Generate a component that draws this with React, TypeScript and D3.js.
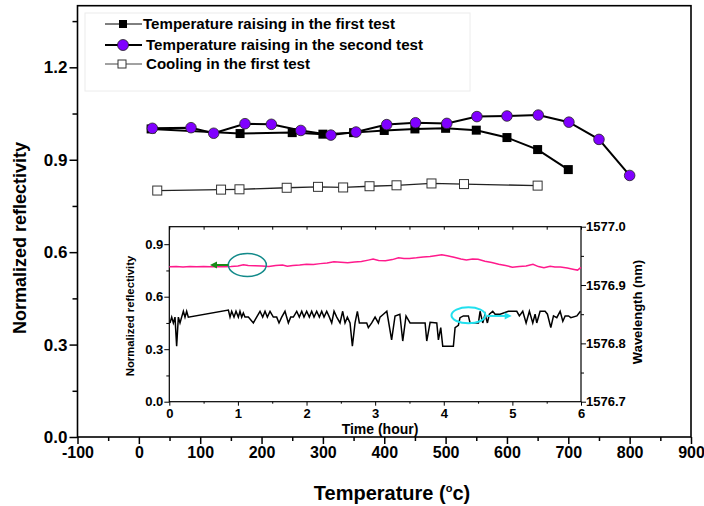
import React, { useEffect, useRef } from 'react';
import * as d3 from 'd3';

// main plot: temperature (°C) against normalized reflectivity
const riseFirstTemp = [20, 165, 250, 300, 350, 400, 450, 500, 550, 600, 650, 700];
const riseFirstRefl = [1.0, 0.985, 0.988, 0.983, 0.988, 0.995, 1.0, 1.002, 0.996, 0.972, 0.933, 0.868];
const riseSecondTemp = [22, 85, 122, 173, 216, 264, 313, 354, 404, 451, 502, 551, 600, 651, 701, 750, 800];
const riseSecondRefl = [1.002, 1.004, 0.986, 1.017, 1.015, 0.995, 0.98, 0.99, 1.014, 1.02, 1.018, 1.04, 1.042, 1.045, 1.022, 0.966, 0.849];
const coolFirstTemp = [30, 134, 164, 241, 292, 333, 376, 420, 477, 530, 650];
const coolFirstRefl = [0.8, 0.803, 0.804, 0.809, 0.812, 0.81, 0.814, 0.817, 0.823, 0.821, 0.816];

const legendLabels = [
  'Temperature raising in the first test',
  'Temperature raising in the second test',
  'Cooling in the first test',
];

const mainYTicks = [0, 0.3, 0.6, 0.9, 1.2];
const mainXTicks = [-100, 0, 100, 200, 300, 400, 500, 600, 700, 800, 900];

// inset: time (hour) against reflectivity (left) and wavelength (right)
const reflTime = [0, 0.1, 0.2, 0.3, 0.4, 0.5, 0.6, 0.7, 0.8, 0.9, 1.0, 1.08, 1.15, 1.25, 1.35, 1.45, 1.55, 1.65, 1.72, 1.8, 1.9, 2.0, 2.1, 2.2, 2.3, 2.4, 2.5, 2.6, 2.7, 2.8, 2.9, 2.97, 3.05, 3.15, 3.25, 3.34, 3.42, 3.5, 3.6, 3.7, 3.8, 3.9, 3.97, 4.05, 4.15, 4.25, 4.33, 4.42, 4.5, 4.6, 4.7, 4.8, 4.9, 5.0, 5.1, 5.2, 5.3, 5.38, 5.46, 5.55, 5.62, 5.7, 5.8, 5.9, 5.95, 6.0];
const reflValue = [0.771, 0.772, 0.77, 0.772, 0.771, 0.772, 0.771, 0.772, 0.771, 0.773, 0.776, 0.783, 0.778, 0.777, 0.775, 0.772, 0.778, 0.781, 0.774, 0.778, 0.781, 0.786, 0.784, 0.789, 0.792, 0.8, 0.797, 0.794, 0.798, 0.801, 0.809, 0.815, 0.807, 0.806, 0.812, 0.823, 0.818, 0.818, 0.822, 0.827, 0.83, 0.836, 0.839, 0.834, 0.825, 0.815, 0.81, 0.816, 0.814, 0.803, 0.796, 0.786, 0.778, 0.769, 0.772, 0.775, 0.785, 0.772, 0.765, 0.774, 0.77, 0.77, 0.764, 0.756, 0.752, 0.768];

const wlTime = [0.01, 0.035, 0.059, 0.083, 0.107, 0.132, 0.156, 0.18, 0.205, 0.229, 0.253, 0.277, 0.861, 0.885, 0.909, 0.943, 0.972, 1.006, 1.03, 1.055, 1.079, 1.103, 1.152, 1.225, 1.273, 1.322, 1.361, 1.395, 1.429, 1.468, 1.516, 1.565, 1.599, 1.638, 1.686, 1.735, 1.769, 1.808, 1.857, 1.895, 1.93, 1.963, 2.002, 2.041, 2.075, 2.109, 2.148, 2.187, 2.221, 2.255, 2.294, 2.333, 2.367, 2.401, 2.44, 2.488, 2.527, 2.561, 2.595, 2.634, 2.668, 2.707, 2.741, 2.77, 2.828, 2.877, 2.901, 2.95, 2.999, 3.047, 3.071, 3.12, 3.17, 3.24, 3.29, 3.36, 3.402, 3.45, 3.509, 3.728, 3.752, 3.801, 3.898, 3.922, 3.956, 3.985, 4.14, 4.165, 4.213, 4.237, 4.286, 4.359, 4.383, 4.505, 4.529, 4.568, 4.602, 4.636, 4.665, 4.714, 4.748, 4.821, 4.942, 4.991, 5.064, 5.102, 5.151, 5.2, 5.248, 5.297, 5.331, 5.355, 5.404, 5.477, 5.511, 5.56, 5.599, 5.647, 5.696, 5.735, 5.769, 5.818, 5.852, 5.94, 5.992];
const wlValue = [1576.835, 1576.845, 1576.835, 1576.845, 1576.795, 1576.845, 1576.835, 1576.845, 1576.855, 1576.845, 1576.855, 1576.845, 1576.857, 1576.845, 1576.855, 1576.845, 1576.855, 1576.845, 1576.855, 1576.845, 1576.852, 1576.845, 1576.845, 1576.835, 1576.845, 1576.855, 1576.845, 1576.855, 1576.845, 1576.855, 1576.845, 1576.845, 1576.835, 1576.845, 1576.855, 1576.835, 1576.845, 1576.845, 1576.855, 1576.845, 1576.855, 1576.845, 1576.855, 1576.845, 1576.855, 1576.845, 1576.855, 1576.845, 1576.855, 1576.845, 1576.855, 1576.845, 1576.835, 1576.855, 1576.845, 1576.835, 1576.855, 1576.835, 1576.845, 1576.835, 1576.795, 1576.835, 1576.855, 1576.835, 1576.835, 1576.835, 1576.827, 1576.835, 1576.845, 1576.835, 1576.845, 1576.85, 1576.855, 1576.806, 1576.847, 1576.85, 1576.804, 1576.847, 1576.835, 1576.835, 1576.804, 1576.836, 1576.835, 1576.806, 1576.827, 1576.795, 1576.795, 1576.827, 1576.831, 1576.844, 1576.847, 1576.847, 1576.835, 1576.835, 1576.855, 1576.835, 1576.85, 1576.835, 1576.85, 1576.855, 1576.85, 1576.85, 1576.855, 1576.855, 1576.855, 1576.847, 1576.855, 1576.835, 1576.855, 1576.835, 1576.85, 1576.835, 1576.855, 1576.855, 1576.85, 1576.827, 1576.847, 1576.844, 1576.855, 1576.838, 1576.847, 1576.847, 1576.844, 1576.847, 1576.855];

const insetTimeTicks = [0, 1, 2, 3, 4, 5, 6];
const insetReflTicks = [0, 0.3, 0.6, 0.9];
const insetWlTicks = [1576.7, 1576.8, 1576.9, 1577.0];

const FONT = "'Liberation Sans', Arial, sans-serif";
const PURPLE = '#8000ff';

function App() {
  const svgRef = useRef<SVGSVGElement>(null);

  useEffect(() => {
    const svg = d3.select(svgRef.current);
    svg.selectAll('*').remove();

    const styleAxis = (g: any, size: number, sw: number) => {
      g.select('.domain').remove();
      g.selectAll('.tick line').attr('stroke', '#000').attr('stroke-width', sw);
      g.selectAll('text')
        .attr('font-family', FONT)
        .attr('font-weight', 'bold')
        .attr('font-size', size)
        .attr('fill', '#000');
    };

    // ---------- main plot ----------
    const x = d3.scaleLinear().domain([-100, 900]).range([77.5, 691]);
    const y = d3.scaleLinear().domain([0, 1.4]).range([437, 5.7]);

    svg
      .append('g')
      .attr('transform', `translate(${x(-100)},0)`)
      .call(d3.axisLeft(y).tickValues(mainYTicks).tickFormat(d3.format('.1f')).tickSize(8).tickPadding(2))
      .call(styleAxis, 17, 1.5);
    svg
      .append('g')
      .attr('transform', `translate(${x(-100)},0)`)
      .call(d3.axisLeft(y).tickValues(d3.range(0.15, 1.4, 0.3)).tickFormat(() => '').tickSize(5))
      .call(styleAxis, 17, 1.5);
    svg
      .append('g')
      .attr('transform', `translate(0,${y(0)})`)
      .call(d3.axisBottom(x).tickValues(mainXTicks).tickFormat((d) => String(d)).tickSize(7).tickPadding(3))
      .call(styleAxis, 16, 1.5);
    svg
      .append('g')
      .attr('transform', `translate(0,${y(0)})`)
      .call(d3.axisBottom(x).tickValues(d3.range(-50, 900, 100)).tickFormat(() => '').tickSize(4))
      .call(styleAxis, 16, 1.5);

    svg
      .append('rect')
      .attr('x', x(-100))
      .attr('y', y(1.4))
      .attr('width', x(900) - x(-100))
      .attr('height', y(0) - y(1.4))
      .attr('fill', 'none')
      .attr('stroke', '#000')
      .attr('stroke-width', 1.6);

    // titles
    const xt = svg
      .append('text')
      .attr('x', 392)
      .attr('y', 500)
      .attr('text-anchor', 'middle')
      .attr('font-family', FONT)
      .attr('font-weight', 'bold')
      .attr('font-size', 20);
    xt.append('tspan').text('Temperature (');
    xt.append('tspan').attr('font-size', 11).attr('dy', -8).text('o');
    xt.append('tspan').attr('dy', 8).text('c)');

    svg
      .append('text')
      .attr('transform', `translate(26,238) rotate(-90)`)
      .attr('text-anchor', 'middle')
      .attr('font-family', FONT)
      .attr('font-weight', 'bold')
      .attr('font-size', 18)
      .text('Normalized reflectivity');

    // legend box
    svg
      .append('rect')
      .attr('x', 85)
      .attr('y', 13)
      .attr('width', 385)
      .attr('height', 78)
      .attr('fill', 'none')
      .attr('stroke', '#ececec')
      .attr('stroke-width', 1);

    const line = d3
      .line<[number, number]>()
      .x((d) => x(d[0]))
      .y((d) => y(d[1]));

    const first = riseFirstTemp.map((t, i) => [t, riseFirstRefl[i]] as [number, number]);
    const second = riseSecondTemp.map((t, i) => [t, riseSecondRefl[i]] as [number, number]);
    const cool = coolFirstTemp.map((t, i) => [t, coolFirstRefl[i]] as [number, number]);

    svg.append('path').datum(cool).attr('d', line).attr('fill', 'none').attr('stroke', '#222').attr('stroke-width', 1.3);
    svg.append('path').datum(first).attr('d', line).attr('fill', 'none').attr('stroke', '#000').attr('stroke-width', 2);
    svg.append('path').datum(second).attr('d', line).attr('fill', 'none').attr('stroke', '#000').attr('stroke-width', 2);

    svg
      .selectAll('.cool')
      .data(cool)
      .enter()
      .append('rect')
      .attr('x', (d) => x(d[0]) - 4.5)
      .attr('y', (d) => y(d[1]) - 4.5)
      .attr('width', 9)
      .attr('height', 9)
      .attr('fill', '#fff')
      .attr('stroke', '#333')
      .attr('stroke-width', 1);
    svg
      .selectAll('.first')
      .data(first)
      .enter()
      .append('rect')
      .attr('x', (d) => x(d[0]) - 4.5)
      .attr('y', (d) => y(d[1]) - 4.5)
      .attr('width', 9)
      .attr('height', 9)
      .attr('fill', '#000');
    svg
      .selectAll('.second')
      .data(second)
      .enter()
      .append('circle')
      .attr('cx', (d) => x(d[0]))
      .attr('cy', (d) => y(d[1]))
      .attr('r', 5.3)
      .attr('fill', PURPLE)
      .attr('stroke', '#222')
      .attr('stroke-width', 0.8);

    // legend entries
    const legY = [24, 45, 64];
    const legTextX = [143, 146, 146];
    const legWidth = [252, 277, 164];
    legendLabels.forEach((label, i) => {
      const ly = legY[i];
      svg
        .append('line')
        .attr('x1', 105)
        .attr('x2', 142)
        .attr('y1', ly)
        .attr('y2', ly)
        .attr('stroke', i === 2 ? '#444' : '#000')
        .attr('stroke-width', i === 1 ? 2 : 1);
      if (i === 0) {
        svg.append('rect').attr('x', 119).attr('y', ly - 4).attr('width', 8).attr('height', 8).attr('fill', '#000');
      } else if (i === 1) {
        svg.append('circle').attr('cx', 123).attr('cy', ly).attr('r', 5.5).attr('fill', PURPLE).attr('stroke', '#222').attr('stroke-width', 0.8);
      } else {
        svg.append('rect').attr('x', 118).attr('y', ly - 4).attr('width', 8).attr('height', 8).attr('fill', '#fff').attr('stroke', '#333');
      }
      svg
        .append('text')
        .attr('x', legTextX[i])
        .attr('y', ly + 5)
        .attr('font-family', FONT)
        .attr('font-weight', 'bold')
        .attr('font-size', 14)
        .attr('textLength', legWidth[i])
        .attr('lengthAdjust', 'spacingAndGlyphs')
        .text(label);
    });

    // ---------- inset ----------
    const xi = d3.scaleLinear().domain([0, 6]).range([169.3, 581]);
    const yi = d3.scaleLinear().domain([0, 1]).range([401.7, 226.7]);
    const yr = d3.scaleLinear().domain([1576.7, 1577.0]).range([401.7, 226.7]);

    svg
      .append('g')
      .attr('transform', `translate(${xi(0)},0)`)
      .call(d3.axisLeft(yi).tickValues(insetReflTicks).tickFormat(d3.format('.1f')).tickSize(5).tickPadding(1))
      .call(styleAxis, 13, 1);
    svg
      .append('g')
      .attr('transform', `translate(${xi(0)},0)`)
      .call(d3.axisLeft(yi).tickValues([0.15, 0.45, 0.75]).tickFormat(() => '').tickSize(3))
      .call(styleAxis, 13, 1);
    svg
      .append('g')
      .attr('transform', `translate(${xi(6)},0)`)
      .call(d3.axisRight(yr).tickValues(insetWlTicks).tickFormat(d3.format('.1f')).tickSize(5).tickPadding(0))
      .call(styleAxis, 13, 1);
    svg
      .append('g')
      .attr('transform', `translate(${xi(6)},0)`)
      .call(d3.axisRight(yr).tickValues([1576.75, 1576.85, 1576.95]).tickFormat(() => '').tickSize(3))
      .call(styleAxis, 13, 1);
    svg
      .append('g')
      .attr('transform', `translate(0,${yi(0)})`)
      .call(d3.axisBottom(xi).tickValues(insetTimeTicks).tickFormat((d) => String(d)).tickSize(4).tickPadding(3))
      .call(styleAxis, 13, 1);
    svg
      .append('g')
      .attr('transform', `translate(0,${yi(0)})`)
      .call(d3.axisBottom(xi).tickValues(d3.range(0.5, 6, 1)).tickFormat(() => '').tickSize(2))
      .call(styleAxis, 13, 1);
    svg
      .append('g')
      .attr('transform', `translate(0,${yi(1)})`)
      .call(d3.axisBottom(xi).tickValues(d3.range(0, 6.01, 0.5)).tickFormat(() => '').tickSize(3))
      .call(styleAxis, 13, 1);

    svg
      .append('rect')
      .attr('x', xi(0))
      .attr('y', yi(1))
      .attr('width', xi(6) - xi(0))
      .attr('height', yi(0) - yi(1))
      .attr('fill', 'none')
      .attr('stroke', '#000')
      .attr('stroke-width', 1.2);

    svg
      .append('text')
      .attr('x', 380)
      .attr('y', 434)
      .attr('text-anchor', 'middle')
      .attr('font-family', FONT)
      .attr('font-weight', 'bold')
      .attr('font-size', 14)
      .text('Time (hour)');
    svg
      .append('text')
      .attr('transform', `translate(134,316) rotate(-90)`)
      .attr('text-anchor', 'middle')
      .attr('font-family', FONT)
      .attr('font-weight', 'bold')
      .attr('font-size', 11.3)
      .text('Normalized reflectivity');
    svg
      .append('text')
      .attr('transform', `translate(642,312) rotate(-90)`)
      .attr('text-anchor', 'middle')
      .attr('font-family', FONT)
      .attr('font-weight', 'bold')
      .attr('font-size', 13)
      .text('Wavelength (nm)');

    const reflLine = d3
      .line<number>()
      .x((_, i) => xi(reflTime[i]))
      .y((d) => yi(d));
    const wlLine = d3
      .line<number>()
      .x((_, i) => xi(wlTime[i]))
      .y((d) => yr(d));

    svg.append('path').datum(reflValue).attr('d', reflLine).attr('fill', 'none').attr('stroke', '#ff1a8c').attr('stroke-width', 1.5);
    svg.append('path').datum(wlValue).attr('d', wlLine).attr('fill', 'none').attr('stroke', '#000').attr('stroke-width', 1.5);

    // annotations
    svg
      .append('ellipse')
      .attr('cx', xi(1.137))
      .attr('cy', yi(0.781))
      .attr('rx', 19)
      .attr('ry', 11.5)
      .attr('fill', 'none')
      .attr('stroke', '#138a8a')
      .attr('stroke-width', 1.5);
    const gy = yi(0.781);
    svg.append('line').attr('x1', xi(0.86)).attr('x2', xi(0.66)).attr('y1', gy).attr('y2', gy).attr('stroke', '#1a8a1a').attr('stroke-width', 2);
    svg
      .append('path')
      .attr('d', `M${xi(0.593)},${gy}L${xi(0.593) + 7},${gy - 3.5}L${xi(0.593) + 7},${gy + 3.5}Z`)
      .attr('fill', '#1a8a1a');

    svg
      .append('ellipse')
      .attr('cx', xi(4.36))
      .attr('cy', yr(1576.848))
      .attr('rx', 17)
      .attr('ry', 8)
      .attr('fill', 'none')
      .attr('stroke', '#22e0ee')
      .attr('stroke-width', 2);
    const cy = yr(1576.847);
    svg.append('line').attr('x1', xi(4.63)).attr('x2', xi(4.9)).attr('y1', cy).attr('y2', cy).attr('stroke', '#22e0ee').attr('stroke-width', 2);
    svg
      .append('path')
      .attr('d', `M${xi(4.99)},${cy}L${xi(4.99) - 7},${cy - 3.5}L${xi(4.99) - 7},${cy + 3.5}Z`)
      .attr('fill', '#22e0ee');
  }, []);

  return (
    <svg
      ref={svgRef}
      width={704}
      height={506}
      style={{ position: 'absolute', left: 0, top: 0, background: '#fff' }}
    ></svg>
  );
}

export default App;
